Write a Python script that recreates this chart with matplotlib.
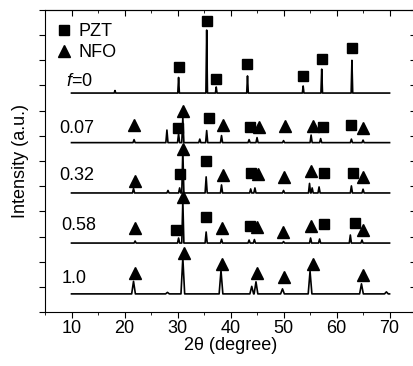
import numpy as np
import matplotlib.pyplot as plt
from matplotlib.lines import Line2D
from matplotlib.ticker import MultipleLocator

plt.rcParams['font.family'] = ['Liberation Sans', 'DejaVu Sans']
plt.rcParams['mathtext.fontset'] = 'custom'
plt.rcParams['mathtext.it'] = 'Liberation Sans:italic'
plt.rcParams['mathtext.rm'] = 'Liberation Sans'

# sample labels and vertical offsets of each pattern
labels = ['$f$=0', '0.07', '0.32', '0.58', '1.0']
offsets = [8.70, 6.73, 4.73, 2.74, 0.72]

# peak positions (2theta) and heights above baseline
peaks_f0 = [18.2, 30.2, 35.5, 37.3, 43.2, 53.7, 57.2, 62.9]
heights_f0 = [0.1, 0.62, 2.5, 0.24, 0.68, 0.28, 0.95, 1.3]
peaks_007 = [21.8, 28.0, 30.2, 31.0, 34.2, 35.5, 38.3, 43.5, 45.0, 50.0, 55.2, 57.0, 62.8, 65.0]
heights_007 = [0.12, 0.5, 0.36, 1.0, 0.14, 0.48, 0.28, 0.12, 0.2, 0.08, 0.3, 0.16, 0.14, 0.1]
peaks_032 = [21.7, 28.2, 30.4, 31.0, 35.4, 38.3, 43.8, 44.6, 50.0, 54.9, 55.4, 56.7, 62.8, 65.0]
heights_032 = [0.18, 0.1, 0.2, 1.72, 0.64, 0.32, 0.16, 0.2, 0.1, 0.38, 0.2, 0.24, 0.28, 0.15]
peaks_058 = [22.0, 30.2, 31.0, 35.4, 38.3, 43.5, 44.5, 50.0, 55.1, 56.8, 62.6, 64.8]
heights_058 = [0.08, 0.2, 1.7, 0.44, 0.15, 0.12, 0.14, 0.06, 0.2, 0.16, 0.32, 0.12]
peaks_10 = [21.7, 28.1, 31.0, 38.2, 44.0, 44.8, 49.8, 55.0, 64.7, 69.4]
heights_10 = [0.5, 0.06, 1.43, 0.93, 0.3, 0.48, 0.2, 0.9, 0.4, 0.08]
peak_halfwidth = [0.15, 0.2, 0.2, 0.2, 0.35]

# NFO (triangle) marks: position and height above baseline
nfo_x_007 = [21.7, 31.1, 38.5, 45.3, 50.2, 55.5, 65.0]
nfo_y_007 = [0.70, 1.25, 0.70, 0.62, 0.66, 0.66, 0.58]
nfo_x_032 = [21.9, 31.1, 38.5, 45.1, 50.0, 55.2, 65.0]
nfo_y_032 = [0.48, 1.75, 0.72, 0.75, 0.64, 0.87, 0.64]
nfo_x_058 = [21.9, 31.1, 38.4, 44.9, 49.9, 55.2, 65.0]
nfo_y_058 = [0.60, 1.83, 0.60, 0.64, 0.44, 0.68, 0.52]
nfo_x_10 = [22.0, 31.2, 38.4, 45.0, 50.0, 55.5, 64.9]
nfo_y_10 = [0.83, 1.63, 1.19, 0.83, 0.68, 1.19, 0.75]

# PZT (square) marks
pzt_x_f0 = [30.2, 35.5, 37.3, 43.2, 53.7, 57.2, 62.9]
pzt_y_f0 = [1.03, 2.86, 0.56, 1.15, 0.68, 1.35, 1.79]
pzt_x_007 = [30.1, 35.9, 43.7, 57.4, 62.8]
pzt_y_007 = [0.58, 0.97, 0.62, 0.62, 0.70]
pzt_x_032 = [30.4, 35.4, 43.9, 57.7, 63.1]
pzt_y_032 = [0.75, 1.27, 0.79, 0.79, 0.79]
pzt_x_058 = [29.75, 35.4, 43.6, 57.6, 63.4]
pzt_y_058 = [0.52, 1.03, 0.68, 0.75, 0.79]

all_peaks = [(peaks_f0, heights_f0), (peaks_007, heights_007), (peaks_032, heights_032),
             (peaks_058, heights_058), (peaks_10, heights_10)]
all_nfo = [([], []), (nfo_x_007, nfo_y_007), (nfo_x_032, nfo_y_032),
           (nfo_x_058, nfo_y_058), (nfo_x_10, nfo_y_10)]
all_pzt = [(pzt_x_f0, pzt_y_f0), (pzt_x_007, pzt_y_007), (pzt_x_032, pzt_y_032),
           (pzt_x_058, pzt_y_058), ([], [])]
label_x = [9.0, 7.7, 7.7, 8.1, 8.1]
label_dy = [0.44, 0.58, 0.71, 0.68, 0.63]


def pattern(pos, hts, hw):
    xs, ys = [10.0], [0.0]
    for p, h in zip(pos, hts):
        xs += [p - hw, p, p + hw]
        ys += [0.0, h, 0.0]
    xs.append(70.0)
    ys.append(0.0)
    return np.array(xs), np.array(ys)


fig = plt.figure(figsize=(4.14, 3.66), dpi=100)
ax = fig.add_axes([0.1087, 0.1475, 0.8963, 0.8252])

for i, off in enumerate(offsets):
    xs, ys = pattern(all_peaks[i][0], all_peaks[i][1], peak_halfwidth[i])
    ax.plot(xs, ys + off, color='black', lw=1.2)
    nx, ny = all_nfo[i]
    if nx:
        ax.plot(nx, np.array(ny) + off, '^', color='black', ms=8, ls='none')
    px, py = all_pzt[i]
    if px:
        ax.plot(px, np.array(py) + off, 's', color='black', ms=7.2, ls='none')
    ax.text(label_x[i], off + label_dy[i], labels[i], fontsize=13, va='center', ha='left')

handles = [Line2D([], [], marker='s', color='black', ls='none', ms=7.2),
           Line2D([], [], marker='^', color='black', ls='none', ms=8)]
ax.legend(handles, ['PZT', 'NFO'], loc='upper left', frameon=False, fontsize=13,
          handlelength=0.8, handletextpad=0.4, labelspacing=0.2,
          borderaxespad=0.0, bbox_to_anchor=(0.012, 0.98))

ax.set_xlim(5, 75)
ax.set_ylim(0, 12)
ax.xaxis.set_major_locator(MultipleLocator(10))
ax.xaxis.set_minor_locator(MultipleLocator(5))
ax.yaxis.set_major_locator(MultipleLocator(1))
ax.set_yticklabels([])
ax.tick_params(axis='x', which='both', direction='out', labelsize=13, pad=2)
ax.tick_params(axis='x', which='major', length=4)
ax.tick_params(axis='x', which='minor', length=2.5)
ax.tick_params(axis='y', direction='out', length=4)
ax.set_xlabel('2θ (degree)', fontsize=13, labelpad=0)
ax.set_ylabel('Intensity (a.u.)', fontsize=13, labelpad=4)

# inward ticks on the top and right edges
top = ax.secondary_xaxis('top')
top.xaxis.set_major_locator(MultipleLocator(10))
top.xaxis.set_minor_locator(MultipleLocator(5))
top.tick_params(which='both', direction='in', labeltop=False)
top.tick_params(which='major', length=4)
top.tick_params(which='minor', length=2.5)
right = ax.secondary_yaxis('right')
right.yaxis.set_major_locator(MultipleLocator(1))
right.tick_params(direction='in', length=4, labelright=False)

fig.savefig('out.png', dpi=100)
